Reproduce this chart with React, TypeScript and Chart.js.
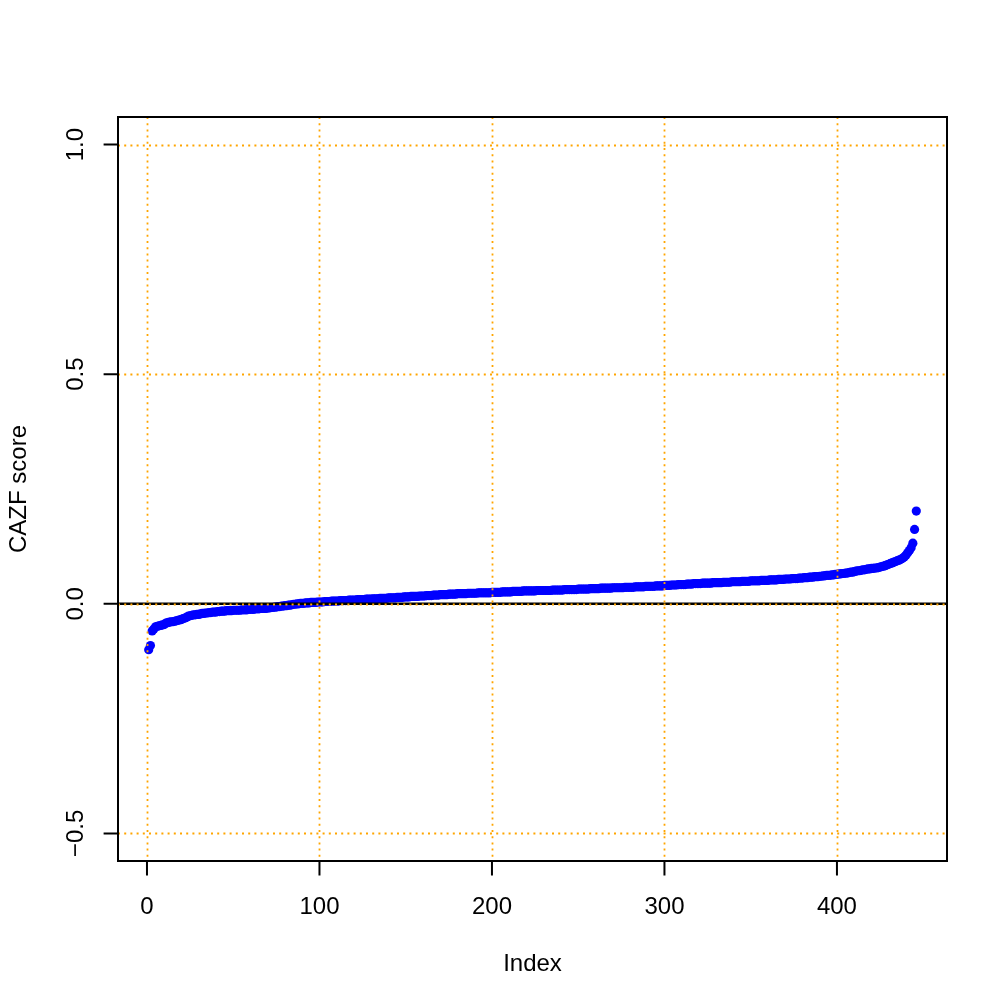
import React, { useEffect, useRef } from "react";
import { Chart, registerables } from "chart.js";

Chart.register(...registerables);

// CAZF scores, sorted (index 1..446)
const cazfScores: number[] = [
  -0.100, -0.091, -0.059, -0.055, -0.050, -0.049, -0.048, -0.047, -0.046, -0.045,
  -0.042, -0.041, -0.040, -0.039, -0.039, -0.038, -0.037, -0.036, -0.035, -0.034,
  -0.032, -0.031, -0.029, -0.027, -0.026, -0.025, -0.024, -0.024, -0.023, -0.023,
  -0.022, -0.021, -0.021, -0.020, -0.020, -0.019, -0.019, -0.018, -0.018, -0.018,
  -0.017, -0.017, -0.016, -0.016, -0.016, -0.015, -0.015, -0.015, -0.015, -0.014,
  -0.014, -0.014, -0.014, -0.014, -0.013, -0.013, -0.013, -0.013, -0.012, -0.012,
  -0.012, -0.012, -0.011, -0.011, -0.011, -0.010, -0.010, -0.010, -0.010, -0.009,
  -0.009, -0.008, -0.008, -0.007, -0.007, -0.006, -0.006, -0.005, -0.005, -0.004,
  -0.004, -0.003, -0.003, -0.002, -0.001, -0.001, 0.000, 0.000, 0.001, 0.001,
  0.001, 0.002, 0.002, 0.002, 0.003, 0.003, 0.003, 0.003, 0.004, 0.004,
  0.004, 0.004, 0.005, 0.005, 0.005, 0.005, 0.006, 0.006, 0.006, 0.006,
  0.006, 0.007, 0.007, 0.007, 0.007, 0.007, 0.008, 0.008, 0.008, 0.008,
  0.008, 0.009, 0.009, 0.009, 0.009, 0.009, 0.010, 0.010, 0.010, 0.010,
  0.011, 0.011, 0.011, 0.011, 0.012, 0.012, 0.012, 0.012, 0.012, 0.013,
  0.013, 0.013, 0.013, 0.013, 0.014, 0.014, 0.014, 0.014, 0.015, 0.015,
  0.015, 0.015, 0.016, 0.016, 0.016, 0.016, 0.016, 0.017, 0.017, 0.017,
  0.017, 0.018, 0.018, 0.018, 0.018, 0.019, 0.019, 0.019, 0.019, 0.020,
  0.020, 0.020, 0.020, 0.020, 0.021, 0.021, 0.021, 0.021, 0.021, 0.022,
  0.022, 0.022, 0.022, 0.022, 0.022, 0.023, 0.023, 0.023, 0.023, 0.023,
  0.023, 0.024, 0.024, 0.024, 0.024, 0.024, 0.024, 0.024, 0.024, 0.025,
  0.025, 0.025, 0.025, 0.025, 0.025, 0.026, 0.026, 0.026, 0.026, 0.026,
  0.026, 0.027, 0.027, 0.027, 0.027, 0.027, 0.027, 0.028, 0.028, 0.028,
  0.028, 0.028, 0.028, 0.028, 0.028, 0.029, 0.029, 0.029, 0.029, 0.029,
  0.029, 0.029, 0.029, 0.029, 0.030, 0.030, 0.030, 0.030, 0.030, 0.030,
  0.030, 0.031, 0.031, 0.031, 0.031, 0.031, 0.031, 0.031, 0.031, 0.032,
  0.032, 0.032, 0.032, 0.032, 0.032, 0.032, 0.033, 0.033, 0.033, 0.033,
  0.033, 0.033, 0.034, 0.034, 0.034, 0.034, 0.034, 0.034, 0.034, 0.035,
  0.035, 0.035, 0.035, 0.035, 0.035, 0.035, 0.036, 0.036, 0.036, 0.036,
  0.036, 0.036, 0.037, 0.037, 0.037, 0.037, 0.037, 0.037, 0.038, 0.038,
  0.038, 0.038, 0.038, 0.038, 0.039, 0.039, 0.039, 0.039, 0.039, 0.040,
  0.040, 0.040, 0.040, 0.041, 0.041, 0.041, 0.041, 0.042, 0.042, 0.042,
  0.042, 0.042, 0.043, 0.043, 0.043, 0.043, 0.044, 0.044, 0.044, 0.044,
  0.044, 0.045, 0.045, 0.045, 0.045, 0.045, 0.045, 0.046, 0.046, 0.046,
  0.046, 0.046, 0.046, 0.047, 0.047, 0.047, 0.047, 0.047, 0.048, 0.048,
  0.048, 0.048, 0.048, 0.048, 0.049, 0.049, 0.049, 0.049, 0.049, 0.050,
  0.050, 0.050, 0.050, 0.050, 0.050, 0.051, 0.051, 0.051, 0.051, 0.051,
  0.052, 0.052, 0.052, 0.052, 0.052, 0.053, 0.053, 0.053, 0.053, 0.054,
  0.054, 0.054, 0.054, 0.055, 0.055, 0.055, 0.055, 0.056, 0.056, 0.056,
  0.057, 0.057, 0.057, 0.058, 0.058, 0.058, 0.059, 0.059, 0.059, 0.060,
  0.060, 0.061, 0.061, 0.062, 0.062, 0.062, 0.063, 0.063, 0.064, 0.064,
  0.065, 0.065, 0.066, 0.066, 0.067, 0.067, 0.068, 0.069, 0.069, 0.070,
  0.071, 0.072, 0.072, 0.073, 0.074, 0.074, 0.075, 0.076, 0.076, 0.077,
  0.077, 0.078, 0.078, 0.079, 0.080, 0.081, 0.082, 0.083, 0.085, 0.086,
  0.088, 0.089, 0.091, 0.092, 0.094, 0.095, 0.097, 0.099, 0.102, 0.106,
  0.111, 0.116, 0.122, 0.132, 0.162, 0.202,
];

const xTickValues: number[] = [0, 100, 200, 300, 400];
const xTickLabels: string[] = ["0", "100", "200", "300", "400"];
const yTickValues: number[] = [-0.5, 0, 0.5, 1.0];
const yTickLabels: string[] = ["\u22120.5", "0.0", "0.5", "1.0"];
const xAxisTitle = "Index";
const yAxisTitle = "CAZF score";
const xLimits: number[] = [-16.8, 463.8];
const yLimits: number[] = [-0.56, 1.06];
const referenceLineY = 0;

const FONT = '24px "Liberation Sans", Arial, Helvetica, sans-serif';

const rPlotPlugin = {
  id: "rPlotDecor",
  afterDatasetsDraw(chart: any) {
    const { ctx, chartArea: a, scales } = chart;
    const xs = scales.x;
    const ys = scales.y;
    ctx.save();

    // abline h = 0
    const y0 = ys.getPixelForValue(referenceLineY);
    ctx.strokeStyle = "#000000";
    ctx.lineWidth = 2.5;
    ctx.beginPath();
    ctx.moveTo(a.left, y0);
    ctx.lineTo(a.right, y0);
    ctx.stroke();

    // dotted orange grid
    ctx.strokeStyle = "#FFA500";
    ctx.lineWidth = 1.8;
    ctx.setLineDash([2, 4.2]);
    for (const v of xTickValues) {
      const px = Math.round(xs.getPixelForValue(v)) + 0.5;
      ctx.beginPath();
      ctx.moveTo(px, a.top);
      ctx.lineTo(px, a.bottom);
      ctx.stroke();
    }
    for (const v of yTickValues) {
      const py = Math.round(ys.getPixelForValue(v)) + 0.5;
      ctx.beginPath();
      ctx.moveTo(a.left, py);
      ctx.lineTo(a.right, py);
      ctx.stroke();
    }
    ctx.setLineDash([]);

    // box
    ctx.strokeStyle = "#000000";
    ctx.lineWidth = 2;
    ctx.strokeRect(a.left, a.top, a.right - a.left, a.bottom - a.top);

    // ticks
    ctx.beginPath();
    for (const v of xTickValues) {
      const px = xs.getPixelForValue(v);
      ctx.moveTo(px, a.bottom);
      ctx.lineTo(px, a.bottom + 14.4);
    }
    for (const v of yTickValues) {
      const py = ys.getPixelForValue(v);
      ctx.moveTo(a.left, py);
      ctx.lineTo(a.left - 14.4, py);
    }
    ctx.stroke();

    // tick labels
    ctx.fillStyle = "#000000";
    ctx.font = FONT;
    ctx.textAlign = "center";
    ctx.textBaseline = "alphabetic";
    xTickValues.forEach((v, i) => {
      ctx.fillText(xTickLabels[i], xs.getPixelForValue(v), a.bottom + 53);
    });
    yTickValues.forEach((v, i) => {
      ctx.save();
      ctx.translate(a.left - 35, ys.getPixelForValue(v));
      ctx.rotate(-Math.PI / 2);
      ctx.fillText(yTickLabels[i], 0, 0);
      ctx.restore();
    });

    // axis titles
    ctx.fillText(xAxisTitle, (a.left + a.right) / 2, a.bottom + 110);
    ctx.save();
    ctx.translate(a.left - 92, (a.top + a.bottom) / 2);
    ctx.rotate(-Math.PI / 2);
    ctx.fillText(yAxisTitle, 0, 0);
    ctx.restore();

    ctx.restore();
  },
};

export default function App() {
  const canvasRef = useRef<HTMLCanvasElement | null>(null);

  useEffect(() => {
    if (!canvasRef.current) return;
    const chart = new Chart(canvasRef.current, {
      type: "scatter",
      data: {
        datasets: [
          {
            label: yAxisTitle,
            data: cazfScores.map((v, i) => ({ x: i + 1, y: v })),
            pointRadius: 4.6,
            pointHoverRadius: 4.6,
            pointBackgroundColor: "#0000FF",
            pointBorderWidth: 0,
            borderColor: "#0000FF",
            showLine: false,
          },
        ],
      },
      options: {
        animation: false,
        responsive: false,
        devicePixelRatio: 1,
        events: [],
        layout: { padding: { left: 118, top: 117, right: 61, bottom: 147 } },
        plugins: { legend: { display: false }, tooltip: { enabled: false } },
        scales: {
          x: { type: "linear", min: xLimits[0], max: xLimits[1], display: false },
          y: { type: "linear", min: yLimits[0], max: yLimits[1], display: false },
        },
      },
      plugins: [rPlotPlugin],
    });
    return () => chart.destroy();
  }, []);

  return (
    <div style={{ position: "absolute", left: 0, top: 0, width: 1008, height: 1008, background: "#ffffff" }}>
      <canvas ref={canvasRef} width={1008} height={1008} style={{ display: "block" }} />
    </div>
  );
}
